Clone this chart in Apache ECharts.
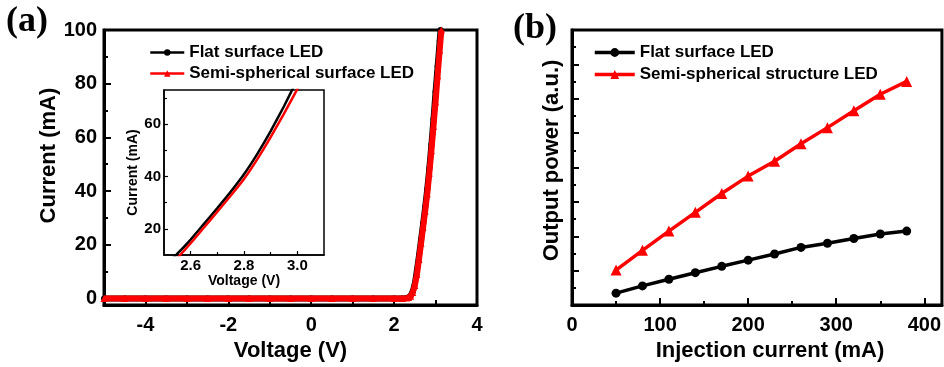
<!DOCTYPE html>
<html>
<head>
<meta charset="utf-8">
<script src="https://cdn.jsdelivr.net/npm/echarts@6/dist/echarts.min.js"></script>
<style>
  html, body { margin: 0; padding: 0; background: #fff; }
  #chart { width: 944px; height: 367px; }
</style>
</head>
<body>
<div id="chart"></div>
<script>
// panel (a): I-V curves, [voltage V, current mA]
var flatIV = [
    [-5, 0], [-4.5, 0], [-4, 0], [-3.5, 0], [-3, 0], [-2.5, 0], [-2, 0], [-1.5, 0],
    [-1, 0], [-0.5, 0], [0, 0], [0.5, 0], [1, 0], [1.5, 0], [2, 0], [2.2, 0],
    [2.3, 0.1], [2.35, 0.35], [2.4, 1], [2.45, 2.6], [2.5, 5.5], [2.55, 10.5],
    [2.6, 15.9], [2.65, 21.9], [2.7, 27.9], [2.75, 34.1], [2.8, 40.8], [2.85, 48.6],
    [2.9, 57.3], [2.95, 66.8], [3.0, 77], [3.05, 86.5], [3.1, 96], [3.12, 100]
];
var semiIV = [
    [-5, 0], [-4.5, 0], [-4, 0], [-3.5, 0], [-3, 0], [-2.5, 0], [-2, 0], [-1.5, 0],
    [-1, 0], [-0.5, 0], [0, 0], [0.5, 0], [1, 0], [1.5, 0], [2, 0], [2.2, 0],
    [2.3, 0.1], [2.35, 0.3], [2.4, 0.8], [2.45, 2.2], [2.5, 4.8], [2.55, 8.9],
    [2.6, 14.5], [2.65, 20.5], [2.7, 26.5], [2.75, 32.6], [2.8, 39], [2.85, 46.6],
    [2.9, 55], [2.95, 64], [3.0, 73.3], [3.05, 83], [3.1, 92.5], [3.14, 100]
];

// panel (b): light output vs injection current
var injCurrent = [50, 80, 110, 140, 170, 200, 230, 260, 290, 320, 350, 380];
var flatPower = [0.69, 1.11, 1.50, 1.88, 2.25, 2.61, 2.97, 3.35, 3.59, 3.87, 4.13, 4.30];
var semiPower = [2.03, 3.18, 4.30, 5.39, 6.49, 7.50, 8.36, 9.38, 10.32, 11.30, 12.26, 13.01];

var aXLabels = [-4, -2, 0, 2, 4];
var aYLabels = [0, 20, 40, 60, 80, 100];
var bXLabels = [0, 100, 200, 300, 400];
var insetXLabels = [2.6, 2.8, 3.0];
var insetYLabels = [20, 40, 60];

var FONT = 'Liberation Sans';

function labelStyle(size, extra) {
    var s = { fontFamily: FONT, fontWeight: 'bold', fontSize: size, color: '#000' };
    for (var k in extra) s[k] = extra[k];
    return s;
}

// one axis with major ticks + labels, a twin with minor ticks only
function axisPair(dim, grid, min, max, labels, major, minor, opts) {
    var main = {
        gridIndex: grid, type: 'value', min: min, max: max,
        position: dim === 'x' ? 'bottom' : 'left',
        axisLine: { show: true, onZero: false, lineStyle: { color: '#000', width: opts.lw } },
        axisTick: { inside: true, length: opts.tick, customValues: major, lineStyle: { color: '#000', width: opts.tw } },
        axisLabel: labelStyle(opts.fs, { customValues: labels, margin: opts.margin, formatter: opts.fmt }),
        splitLine: { show: false }
    };
    if (!labels) main.axisLabel.show = false;
    if (opts.name) {
        main.name = opts.name;
        main.nameLocation = 'middle';
        main.nameGap = opts.gap;
        main.nameTextStyle = labelStyle(opts.nfs, { padding: opts.npad || 0 });
    }
    var twin = {
        gridIndex: grid, type: 'value', min: min, max: max,
        position: dim === 'x' ? 'bottom' : 'left',
        axisLine: { show: false, onZero: false },
        axisTick: { inside: true, length: opts.minorTick, customValues: minor, lineStyle: { color: '#000', width: opts.tw } },
        axisLabel: { show: false },
        splitLine: { show: false }
    };
    return [main, twin];
}

var ax = axisPair('x', 0, -5, 4, aXLabels, [-4, -2, 0, 2], [-3, -1, 1, 3],
    { lw: 3, tw: 2, tick: 6, minorTick: 5, fs: 20, margin: 10, name: 'Voltage (V)', gap: 33, nfs: 22 });
var ay = axisPair('y', 0, -2.5, 100, aYLabels, [0, 20, 40, 60, 80], [10, 30, 50, 70, 90],
    { lw: 3, tw: 2, tick: 7, minorTick: 4, fs: 20, margin: 7, name: 'Current (mA)', gap: 35, nfs: 22,
      npad: [0, 0, 0, 24] });
var bx = axisPair('x', 1, 0, 420, bXLabels, [100, 200, 300, 400], [50, 150, 250, 350],
    { lw: 3, tw: 2, tick: 7, minorTick: 4, fs: 20, margin: 10, name: 'Injection current (mA)', gap: 35, nfs: 22,
      npad: [0, 0, 0, 26] });
var by = axisPair('y', 1, 0, 16, null, [2, 4, 6, 8, 10, 12, 14], [1, 3, 5, 7, 9, 11, 13, 15],
    { lw: 3, tw: 2, tick: 7, minorTick: 4, fs: 20, margin: 7, name: 'Output power (a.u.)', gap: 9, nfs: 22,
      npad: [0, 0, 0, 14] });
var ix = axisPair('x', 2, 2.5, 3.1, insetXLabels, insetXLabels, [2.7, 2.9],
    { lw: 1.5, tw: 1.2, tick: 4, minorTick: 3, fs: 15, margin: 3, name: 'Voltage (V)', gap: 18, nfs: 14,
      fmt: function (v) { return v.toFixed(1); } });
var iy = axisPair('y', 2, 10, 73, insetYLabels, insetYLabels, [30, 50, 70],
    { lw: 1.5, tw: 1.2, tick: 4, minorTick: 3, fs: 15, margin: 3, name: 'Current (mA)', gap: 22, nfs: 14 });

// axis indices: 0 a-main,1 a-twin,2 b-main,3 b-twin,4 inset-main,5 inset-twin
var xAxes = ax.concat(bx, ix);
var yAxes = ay.concat(by, iy);

var dom = document.getElementById('chart');
var chart = echarts.init(dom, null, { renderer: 'canvas' });

var option = {
    animation: false,
    backgroundColor: '#fff',
    grid: [
        { left: 104, top: 30, width: 373, height: 277, show: true, borderColor: '#000', borderWidth: 3 },
        { left: 572, top: 30, width: 374, height: 277, show: true, borderColor: '#000', borderWidth: 3 },
        { left: 164, top: 90, width: 160, height: 165, show: true, borderColor: '#000', borderWidth: 1.5 }
    ],
    xAxis: xAxes,
    yAxis: yAxes,
    legend: [
        {
            left: 149, top: 44, orient: 'vertical', itemGap: 4, padding: 0,
            itemWidth: 34, itemHeight: 8,
            lineStyle: { width: 2.5 },
            textStyle: labelStyle(17),
            data: ['Flat surface LED', 'Semi-spherical surface LED']
        },
        {
            left: 593, top: 44, orient: 'vertical', itemGap: 5, padding: 0,
            itemWidth: 40, itemHeight: 11,
            lineStyle: { width: 3.5 },
            textStyle: labelStyle(17),
            data: ['Flat surface LED', 'Semi-spherical structure LED']
        }
    ],
    graphic: [
        { type: 'text', left: 6, top: 4, style: { text: '(a)', font: 'bold 36px "Liberation Serif"', fill: '#000' } },
        { type: 'text', left: 513, top: 11, style: { text: '(b)', font: 'bold 36px "Liberation Serif"', fill: '#000' } }
    ],
    series: [
        {
            name: 'Flat surface LED', type: 'line', xAxisIndex: 0, yAxisIndex: 0,
            data: flatIV, symbol: 'circle', symbolSize: 6, showAllSymbol: true,
            lineStyle: { color: '#000', width: 6 }, itemStyle: { color: '#000' }, z: 2
        },
        {
            name: 'Semi-spherical surface LED', type: 'line', xAxisIndex: 0, yAxisIndex: 0,
            data: semiIV, symbol: 'triangle', symbolSize: 7, showAllSymbol: true,
            lineStyle: { color: '#ff0000', width: 6 }, itemStyle: { color: '#ff0000' }, z: 3
        },
        {
            name: 'Flat surface LED', type: 'line', xAxisIndex: 4, yAxisIndex: 4,
            data: flatIV, showSymbol: false, smooth: 0.15, clip: true,
            lineStyle: { color: '#000', width: 2.5 }, itemStyle: { color: '#000' }, z: 2
        },
        {
            name: 'Semi-spherical surface LED', type: 'line', xAxisIndex: 4, yAxisIndex: 4,
            data: semiIV, showSymbol: false, smooth: 0.15, clip: true,
            lineStyle: { color: '#ff0000', width: 2.5 }, itemStyle: { color: '#ff0000' }, z: 3
        },
        {
            name: 'Flat surface LED', type: 'line', xAxisIndex: 2, yAxisIndex: 2,
            data: injCurrent.map(function (c, i) { return [c, flatPower[i]]; }),
            symbol: 'circle', symbolSize: 9,
            lineStyle: { color: '#000', width: 3.5 }, itemStyle: { color: '#000' }
        },
        {
            name: 'Semi-spherical structure LED', type: 'line', xAxisIndex: 2, yAxisIndex: 2,
            data: injCurrent.map(function (c, i) { return [c, semiPower[i]]; }),
            symbol: 'triangle', symbolSize: 11,
            lineStyle: { color: '#ff0000', width: 3.5 }, itemStyle: { color: '#ff0000' }
        }
    ]
};

chart.setOption(option);
</script>
</body>
</html>
